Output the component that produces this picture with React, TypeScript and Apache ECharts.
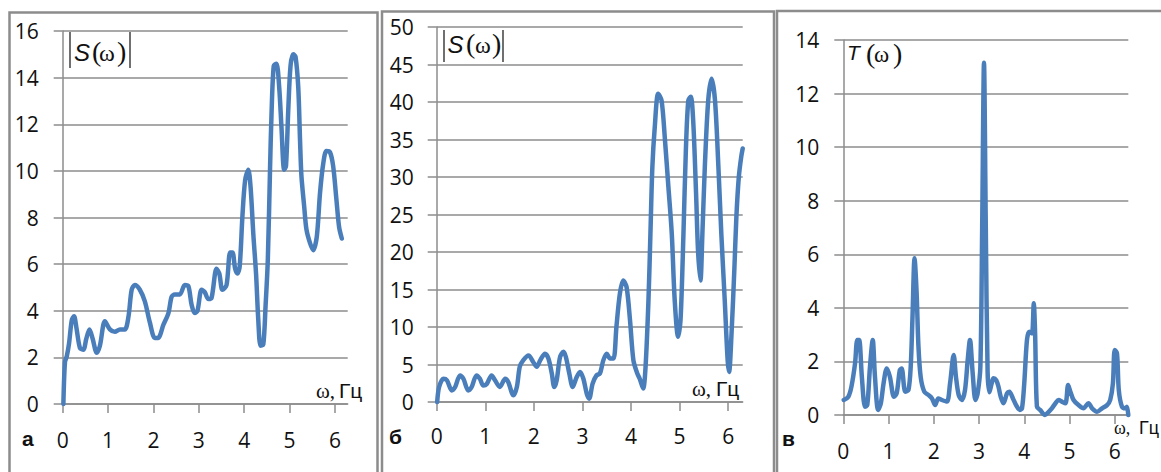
import React, { useEffect, useRef } from "react";
import * as echarts from "echarts";

// Panel а: |S(ω)|
const omegaA = [0.015, 0.05, 0.09, 0.14, 0.2, 0.25, 0.3, 0.38, 0.455, 0.52, 0.59, 0.66, 0.75, 0.82, 0.93, 1.04, 1.15, 1.26, 1.37, 1.45, 1.52, 1.59, 1.7, 1.81, 1.92, 2.03, 2.1, 2.22, 2.33, 2.4, 2.47, 2.58, 2.69, 2.77, 2.84, 2.91, 2.97, 3.06, 3.13, 3.21, 3.28, 3.39, 3.45, 3.52, 3.61, 3.69, 3.74, 3.8, 3.85, 3.9, 3.96, 4.02, 4.09, 4.14, 4.2, 4.26, 4.31, 4.36, 4.42, 4.47, 4.52, 4.57, 4.6, 4.65, 4.71, 4.77, 4.82, 4.88, 4.92, 4.97, 5.02, 5.08, 5.13, 5.19, 5.23, 5.26, 5.32, 5.37, 5.45, 5.52, 5.6, 5.67, 5.74, 5.81, 5.89, 5.96, 6.03, 6.09, 6.15];
const valuesA = [0, 1.8, 2.05, 2.6, 3.6, 3.76, 3.3, 2.4, 2.33, 2.8, 3.2, 2.8, 2.2, 2.5, 3.55, 3.2, 3.1, 3.2, 3.2, 3.76, 4.9, 5.1, 4.9, 4.4, 3.5, 2.83, 2.83, 3.4, 3.9, 4.6, 4.7, 4.7, 5.1, 5.05, 4.26, 3.9, 4.0, 4.9, 4.8, 4.5, 4.55, 5.8, 5.6, 4.9, 5.1, 6.5, 6.5, 5.8, 5.6, 5.9, 8.05, 9.6, 10.05, 9.3, 7.3, 5.6, 3.6, 2.5, 2.55, 4.2, 6.2, 10.2, 12.35, 14.5, 14.6, 13.6, 11.9, 10.05, 10.2, 12.6, 14.5, 15.0, 14.9, 13.6, 11.3, 9.8, 8.5, 7.5, 6.9, 6.6, 7.2, 9.05, 10.3, 10.85, 10.8, 10.2, 8.8, 7.6, 7.1];

// Panel б: |S(ω)|
const omegaB = [0.01, 0.05, 0.14, 0.21, 0.31, 0.38, 0.48, 0.55, 0.65, 0.72, 0.82, 0.89, 0.96, 1.03, 1.13, 1.2, 1.3, 1.41, 1.47, 1.58, 1.65, 1.71, 1.78, 1.89, 1.99, 2.06, 2.13, 2.23, 2.3, 2.37, 2.42, 2.47, 2.54, 2.61, 2.66, 2.73, 2.8, 2.88, 2.95, 3.02, 3.09, 3.14, 3.21, 3.29, 3.36, 3.43, 3.5, 3.57, 3.64, 3.7, 3.77, 3.84, 3.91, 3.98, 4.05, 4.13, 4.18, 4.25, 4.3, 4.36, 4.4, 4.44, 4.49, 4.56, 4.63, 4.7, 4.77, 4.84, 4.9, 4.97, 5.02, 5.08, 5.13, 5.18, 5.23, 5.28, 5.34, 5.38, 5.43, 5.47, 5.52, 5.59, 5.66, 5.73, 5.8, 5.86, 5.93, 5.99, 6.02, 6.07, 6.13, 6.17, 6.22, 6.27, 6.3];
const valuesB = [0, 2.0, 3.1, 2.9, 1.55, 2.0, 3.55, 3.1, 1.55, 2.0, 3.55, 3.1, 2.2, 2.4, 3.55, 2.9, 2.0, 3.1, 2.7, 0.9, 2.0, 4.7, 5.55, 6.2, 5.3, 4.7, 5.55, 6.45, 5.8, 3.8, 2.0, 2.9, 6.0, 6.7, 6.0, 3.8, 2.0, 3.3, 4.0, 3.1, 1.1, 0.45, 2.45, 3.55, 3.8, 5.55, 6.45, 5.8, 5.8, 10.0, 14.4, 16.2, 15.3, 10.9, 5.55, 3.8, 3.1, 1.8, 4.7, 13.6, 22.4, 31.3, 36.7, 41.1, 40.2, 34.9, 28.7, 22.4, 13.6, 8.7, 10.9, 22.4, 33.6, 40.2, 40.7, 37.6, 27.8, 20.2, 16.2, 22.4, 31.3, 40.2, 43.1, 40.2, 31.3, 22.4, 13.6, 5.55, 4.0, 9.1, 18.0, 24.7, 30.0, 32.7, 33.8];

// Panel в: T(ω)
const omegaC = [0.01, 0.11, 0.18, 0.26, 0.31, 0.35, 0.41, 0.48, 0.53, 0.59, 0.65, 0.7, 0.77, 0.83, 0.89, 0.96, 1.03, 1.12, 1.18, 1.25, 1.29, 1.37, 1.44, 1.49, 1.53, 1.575, 1.62, 1.66, 1.71, 1.79, 1.88, 1.96, 2.03, 2.1, 2.18, 2.29, 2.36, 2.44, 2.49, 2.55, 2.62, 2.69, 2.75, 2.8, 2.86, 2.92, 2.97, 3.03, 3.07, 3.11, 3.15, 3.19, 3.23, 3.28, 3.32, 3.38, 3.43, 3.48, 3.54, 3.62, 3.67, 3.75, 3.82, 3.9, 3.95, 4.0, 4.06, 4.11, 4.17, 4.21, 4.24, 4.28, 4.35, 4.46, 4.54, 4.61, 4.69, 4.76, 4.83, 4.91, 4.97, 5.02, 5.09, 5.2, 5.31, 5.42, 5.5, 5.61, 5.72, 5.83, 5.9, 5.96, 6.0, 6.05, 6.09, 6.16, 6.24, 6.27, 6.3];
const valuesC = [0.56, 0.68, 1.06, 1.93, 2.8, 2.8, 1.43, 0.31, 0.37, 1.8, 2.8, 1.43, 0.19, 0.44, 1.18, 1.74, 1.43, 0.68, 0.81, 1.68, 1.74, 0.87, 0.93, 1.8, 3.67, 5.85, 4.6, 2.6, 1.43, 0.87, 0.75, 0.62, 0.37, 0.62, 0.56, 0.5, 1.18, 2.24, 1.43, 0.75, 0.56, 0.93, 2.05, 2.8, 1.56, 0.56, 0.81, 1.8, 7.0, 13.15, 7.0, 1.6, 0.85, 1.18, 1.37, 1.3, 1.06, 0.68, 0.44, 0.81, 0.87, 0.62, 0.37, 0.19, 0.25, 1.18, 2.8, 3.11, 3.05, 4.17, 3.05, 0.31, 0.19, 0.0, 0.12, 0.25, 0.44, 0.56, 0.5, 0.44, 1.12, 0.87, 0.56, 0.37, 0.25, 0.44, 0.25, 0.12, 0.25, 0.37, 0.56, 1.18, 2.43, 2.3, 0.93, 0.31, 0.25, 0.31, 0.0];

const xTickValues = [0, 1, 2, 3, 4, 5, 6];

const GRID = "#8c8c8c";
const LINE = "#4a7ebb";
const TICK_FONT = "Open Sans";

const zip = (xs: number[], ys: number[]) => xs.map((x, i) => [x, ys[i]]);

export default function App() {
  const ref = useRef<HTMLDivElement>(null);
  useEffect(() => {
    document.body.style.margin = "0";
    const chart = echarts.init(ref.current!, undefined, { renderer: "svg" });

    const panels = [
      { left: 62.7, top: 31, width: 285, height: 373, xmax: 6.28, ymax: 16, yint: 2, lm: 24, xm: 25 },
      { left: 436.7, top: 27, width: 306, height: 375, xmax: 6.3, ymax: 50, yint: 5, lm: 23, xm: 23 },
      { left: 843.3, top: 40, width: 285, height: 375, xmax: 6.3, ymax: 14, yint: 2, lm: 24, xm: 25 },
    ];
    const datas = [zip(omegaA, valuesA), zip(omegaB, valuesB), zip(omegaC, valuesC)];

    const txt = (x: number, y: number, text: string, font: string, align = "left", va = "middle", fill = "#111") => ({
      type: "text",
      x,
      y,
      silent: true,
      style: { text, font, fill, align, verticalAlign: va, textAlign: align, textVerticalAlign: va },
    });
    const bar = (x: number, y1: number, y2: number) => ({
      type: "line",
      silent: true,
      shape: { x1: x, y1, x2: x, y2 },
      style: { stroke: "#222", lineWidth: 1.3 },
    });
    const border = (x: number, y: number, w: number, h: number) => ({
      type: "rect",
      silent: true,
      shape: { x, y, width: w, height: h },
      style: { fill: "none", stroke: GRID, lineWidth: 2.5 },
    });
    const omegaLabel = (x: number, y: number, size: number, gx: number) => [
      txt(x, y, "ω,", `${size}px Liberation Serif`, "left", "bottom"),
      txt(gx, y, "Гц", `${size}px Liberation Sans`, "left", "bottom"),
    ];

    const graphic: any[] = [
      border(9.5, 12.5, 368, 480),
      border(382, 11.5, 392, 480),
      border(777, 11, 500, 480),
      // panel а title |S(ω)|
      bar(70, 32, 68),
      txt(74, 52, "S", "italic 24px Liberation Sans"),
      txt(92, 51, "(", "28px Liberation Serif"),
      txt(99, 53, "ω", "24px Liberation Serif"),
      txt(117, 51, ")", "28px Liberation Serif"),
      bar(130, 32, 68),
      // panel б title
      bar(444, 30, 62),
      txt(447.5, 44, "S", "italic 24px Liberation Sans"),
      txt(466, 43, "(", "28px Liberation Serif"),
      txt(475, 45, "ω", "24px Liberation Serif"),
      txt(492, 43, ")", "28px Liberation Serif"),
      bar(503, 30, 62),
      // panel в title T(ω)
      txt(847, 52, "T", "italic 21px Liberation Sans"),
      txt(866, 53, "(", "28px Liberation Serif"),
      txt(874, 54, "ω", "23px Liberation Serif"),
      txt(893, 53, ")", "28px Liberation Serif"),
      // axis name labels
      ...omegaLabel(316, 401, 21, 339),
      ...omegaLabel(692, 399, 21, 716),
      ...omegaLabel(1114, 437, 18, 1139),
      // panel letters
      txt(22, 438, "а", "bold 21px Liberation Sans"),
      txt(389, 436, "б", "bold 21px Liberation Sans"),
      txt(782, 438, "в", "bold 21px Liberation Sans"),
    ];

    chart.setOption({
      animation: false,
      backgroundColor: "#ffffff",
      grid: panels.map((p) => ({
        left: p.left,
        top: p.top,
        width: p.width,
        height: p.height,
        containLabel: false,
        outerBoundsMode: "none",
      })),
      xAxis: panels.map((p, i) => ({
        type: "value",
        gridIndex: i,
        min: 0,
        max: p.xmax,
        interval: 1,
        splitLine: { show: false },
        axisLine: { show: true, onZero: false, lineStyle: { color: GRID, width: 1.5 } },
        axisTick: { show: true, inside: false, length: 9, customValues: xTickValues, lineStyle: { color: GRID, width: 1.5 } },
        axisLabel: {
          show: true,
          customValues: xTickValues,
          margin: p.xm,
          fontFamily: TICK_FONT,
          fontSize: 21,
          color: "#111",
          formatter: (v: number) => String(v),
        },
      })),
      yAxis: panels.map((p, i) => ({
        type: "value",
        gridIndex: i,
        min: 0,
        max: p.ymax,
        interval: p.yint,
        axisLine: { show: true, lineStyle: { color: GRID, width: 1.5 } },
        axisTick: { show: true, inside: false, length: 9, lineStyle: { color: GRID, width: 1.5 } },
        splitLine: { show: true, lineStyle: { color: GRID, width: 1.5 } },
        axisLabel: { show: true, margin: p.lm, fontFamily: TICK_FONT, fontSize: 21, color: "#111" },
      })),
      series: datas.map((d, i) => ({
        type: "line",
        xAxisIndex: i,
        yAxisIndex: i,
        data: d,
        showSymbol: false,
        smooth: 0.3,
        clip: false,
        lineStyle: { color: LINE, width: 4.5, cap: "round", join: "round" },
        z: 3,
      })),
      graphic,
    });
    return () => chart.dispose();
  }, []);
  return <div ref={ref} style={{ position: "fixed", left: 0, top: 0, width: 1161, height: 472 }} />;
}
